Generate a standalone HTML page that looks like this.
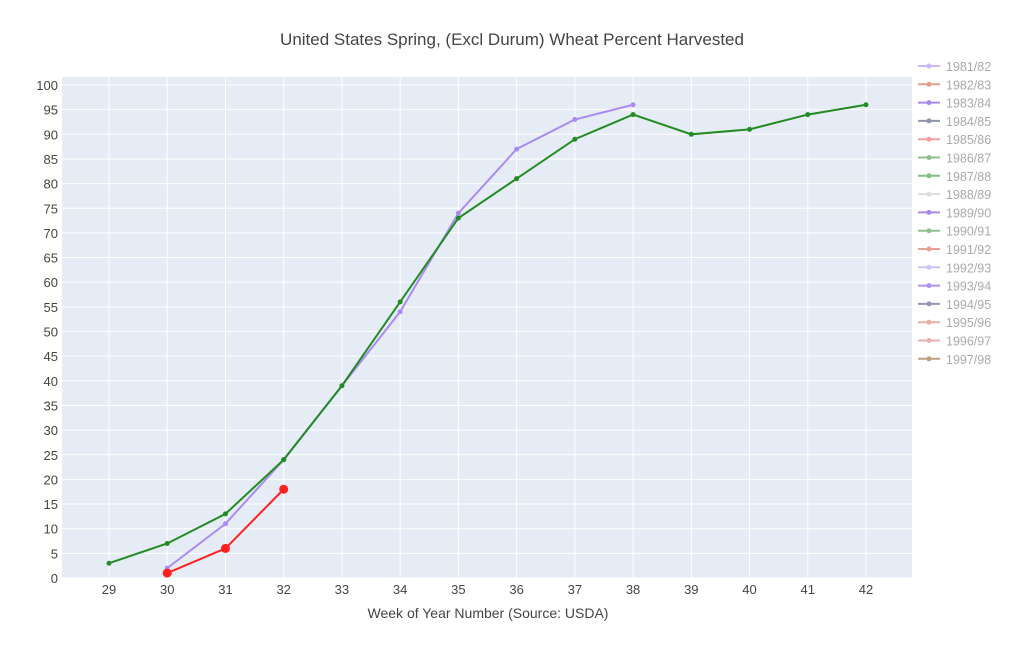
<!DOCTYPE html>
<html><head><meta charset="utf-8"><style>
body{margin:0;background:#fff;font-family:"Liberation Sans",sans-serif;}
svg text{font-family:"Liberation Sans",sans-serif;}
</style></head><body>
<svg id="chart" width="1024" height="641" xmlns="http://www.w3.org/2000/svg">
<text x="512" y="45" text-anchor="middle" font-size="17" fill="#444">United States Spring, (Excl Durum) Wheat Percent Harvested</text>
<rect x="62" y="77" width="850" height="501" fill="#e5ecf6"/>
<g id="grid"></g><g id="series"></g><g id="legend"></g>
<text x="488" y="618" text-anchor="middle" font-size="14" fill="#444">Week of Year Number     (Source: USDA)</text>
</svg>
<script>
const weeks=[29,30,31,32,33,34,35,36,37,38,39,40,41,42];
const yTicks=[0,5,10,15,20,25,30,35,40,45,50,55,60,65,70,75,80,85,90,95,100];
const greenX=[29,30,31,32,33,34,35,36,37,38,39,40,41,42];
const greenY=[3,7,13,24,39,56,73,81,89,94,90,91,94,96];
const purpleX=[30,31,32,33,34,35,36,37,38];
const purpleY=[2,11,24,39,54,74,87,93,96];
const redX=[30,31,32];
const redY=[1,6,18];
const legendLabels=["1981/82","1982/83","1983/84","1984/85","1985/86","1986/87","1987/88","1988/89","1989/90","1990/91","1991/92","1992/93","1993/94","1994/95","1995/96","1996/97","1997/98"];
const legendColors=["#c9b8f5","#e0a090","#a88ae8","#8f96a8","#f0a0a0","#8fbf8f","#80c080","#dddddd","#a88ae8","#90c090","#e8a090","#c8c8f0","#b090f0","#9098b0","#e8b0a0","#e8b0b0","#c0a080"];
const NS="http://www.w3.org/2000/svg";
const xs=w=>109+(w-29)*58.23;
const ys=v=>578-v*4.93;
function mk(t,a,p){const e=document.createElementNS(NS,t);for(const k in a)e.setAttribute(k,a[k]);p.appendChild(e);return e;}
const grid=document.getElementById('grid');
yTicks.forEach(v=>{
 const l=mk('line',{x1:62,x2:912,y1:ys(v),y2:ys(v),stroke:'#fff','stroke-width':1},grid);
 
 
 const t=mk('text',{x:58,y:ys(v)+5,'text-anchor':'end','font-size':13,fill:'#444'},grid);
 t.textContent=v;
 
 
});
weeks.forEach(w=>{
 const l=mk('line',{x1:xs(w),x2:xs(w),y1:77,y2:578,stroke:'#fff','stroke-width':1},grid);
 
 
 const t=mk('text',{x:xs(w),y:594,'text-anchor':'middle','font-size':13,fill:'#444'},grid);
 t.textContent=w;
 
 
});
const sg=document.getElementById('series');
function series(X,Y,color,r,name){
 const g=mk('g',{},sg);
 
 
 mk('polyline',{points:X.map((x,i)=>xs(x)+','+ys(Y[i])).join(' '),fill:'none',stroke:color,'stroke-width':2},g);
 X.forEach((x,i)=>{const c=mk('circle',{cx:xs(x),cy:ys(Y[i]),r:r,fill:color},g);
  
  });
}
series(purpleX,purpleY,'#ab8af2',2.5,'series-purple');
series(greenX,greenY,'#228b22',2.5,'series-green');
series(redX,redY,'#ff2020',4.5,'series-red');
const lg=document.getElementById('legend');
legendLabels.forEach((lab,i)=>{
 const y=66+i*18.3;
 const g=mk('g',{},lg);
 
 
 mk('line',{x1:918,x2:940,y1:y,y2:y,stroke:legendColors[i],'stroke-width':2},g);
 mk('circle',{cx:929,cy:y,r:2.5,fill:legendColors[i]},g);
 const t=mk('text',{x:946,y:y+5,'font-size':12.5,fill:'#aaa'},g);
 t.textContent=lab;
});
</script>
</body></html>
